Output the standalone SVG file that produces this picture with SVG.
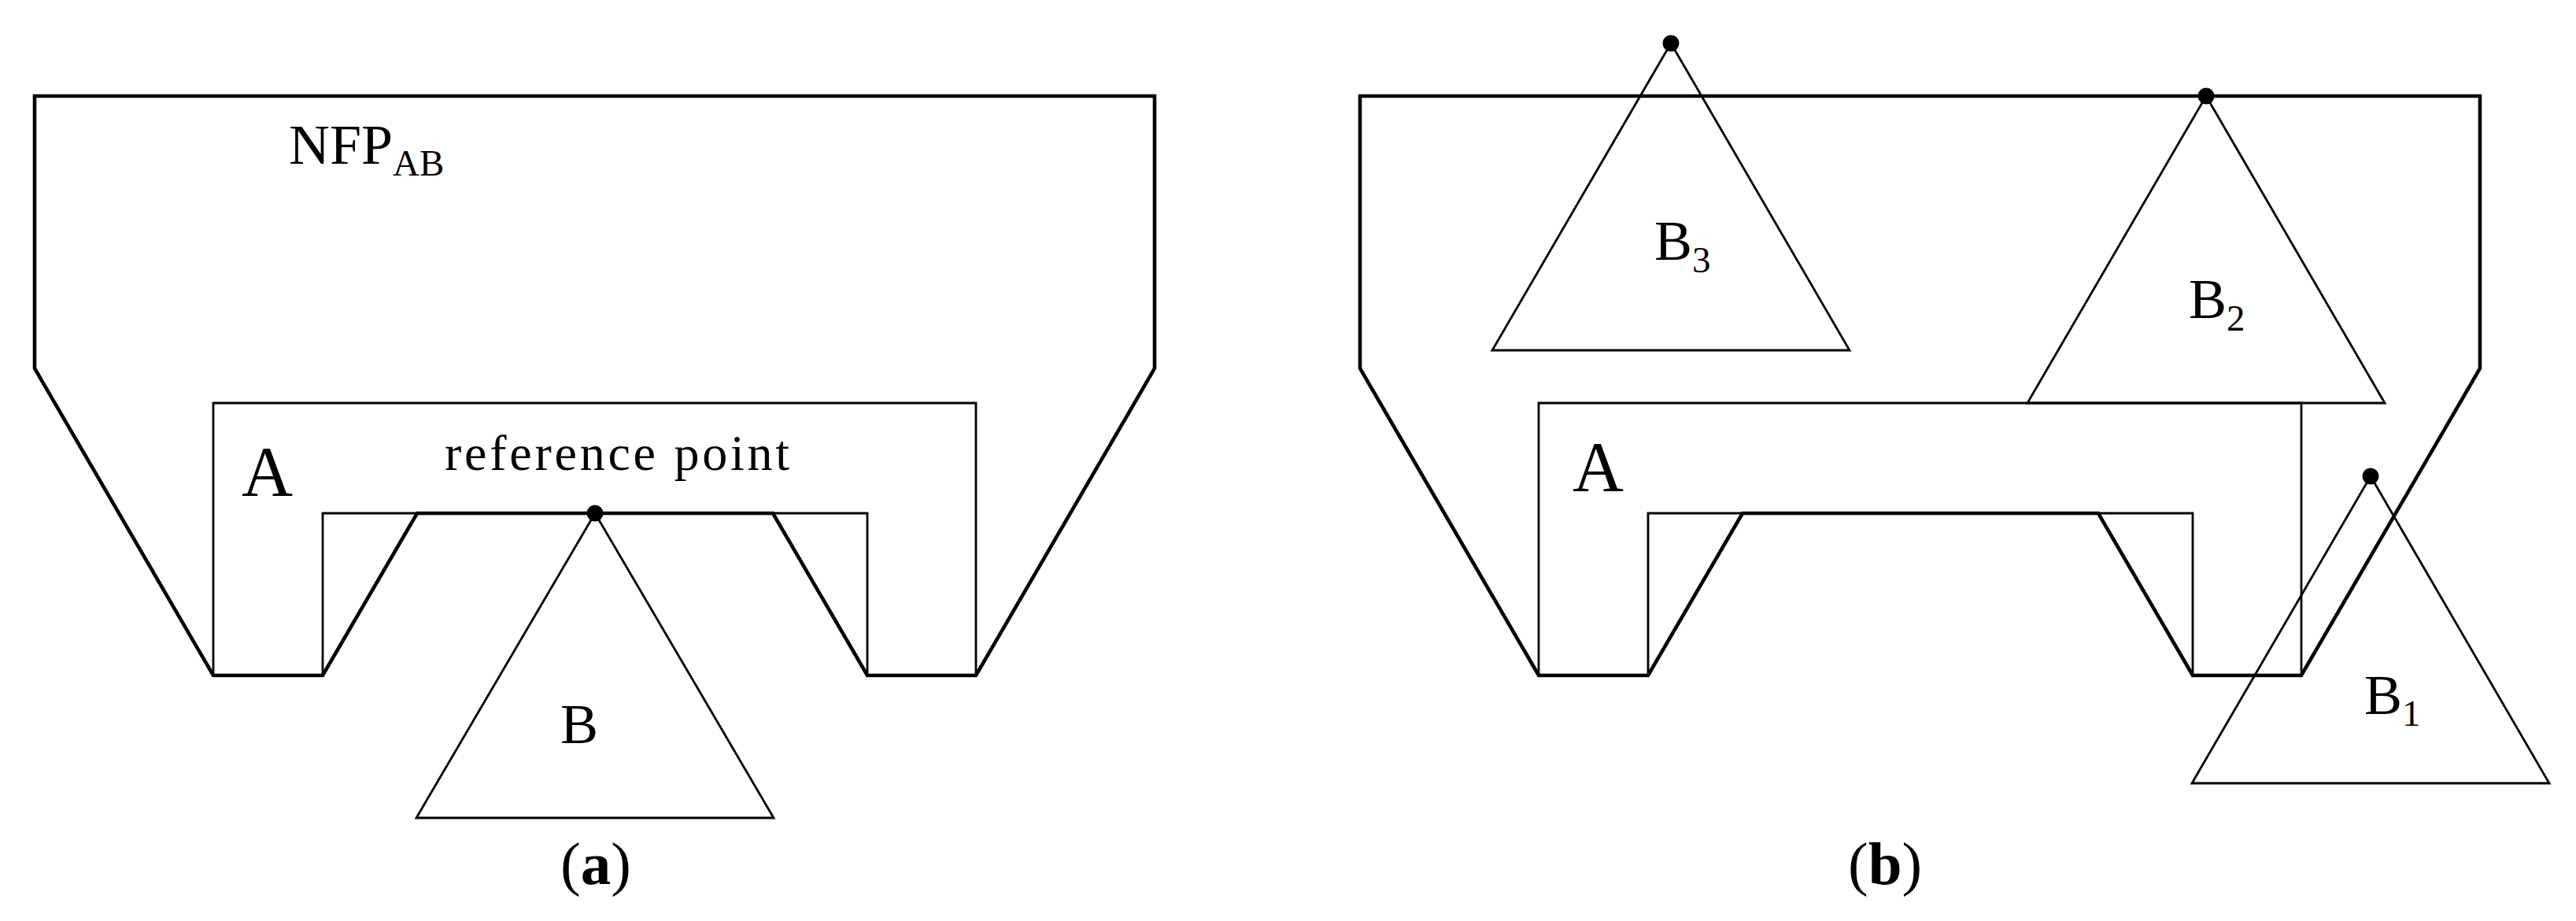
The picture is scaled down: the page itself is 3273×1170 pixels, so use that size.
<svg xmlns="http://www.w3.org/2000/svg" width="3273" height="1170" viewBox="0 0 3273 1170">
<style>
.nfp{fill:none;stroke:#000;stroke-width:4.6;stroke-linejoin:miter}
.thin{fill:none;stroke:#000;stroke-width:2.8;stroke-linejoin:miter}
.dot{fill:#000}
text{font-family:"Liberation Serif","Times New Roman",serif;fill:#000}
.lbl{font-size:72px}
.sub{font-size:47px}
.big{font-size:90px}
.cap{font-size:77px}
</style>
<rect width="3273" height="1170" fill="#fff"/>

<!-- Panel (a) -->
<g id="panel-a">
  <g id="a-A">
    <polygon class="thin" points="271,512 1240,512 1240,858 1102,858 1102,652 410,652 410,858 271,858"/>
    <text class="big" x="307" y="630">A</text>
  </g>
  <g id="a-B">
    <polygon class="thin" points="756,652 983,1039 529,1039"/>
    <text class="lbl" x="712" y="944">B</text>
  </g>
  <g id="a-NFP">
    <polygon class="nfp" points="44,122 1467,122 1467,468 1240,858 1102,858 982,652 530,652 410,858 271,858 44,468"/>
    <text class="lbl" x="367" y="208">NFP<tspan class="sub" dy="15">AB</tspan></text>
  </g>
  <g id="a-ref">
    <circle class="dot" cx="756" cy="652" r="10.5"/>
    <text x="565" y="597" font-size="64" textLength="438" lengthAdjust="spacing">reference point</text>
  </g>
  <text id="cap-a" class="cap" x="712" y="1123">(<tspan font-weight="bold">a</tspan>)</text>
</g>

<!-- Panel (b) -->
<g id="panel-b">
  <g id="b-A">
    <polygon class="thin" points="1955,512 2924,512 2924,858 2786,858 2786,652 2094,652 2094,858 1955,858"/>
    <text class="big" x="1998" y="624">A</text>
  </g>
  <g id="b-B3">
    <polygon class="thin" points="2123,55 2350,445 1896,445"/>
    <circle class="dot" cx="2123" cy="55" r="10.5"/>
    <text class="lbl" x="2102" y="330">B<tspan class="sub" dy="16">3</tspan></text>
  </g>
  <g id="b-B2">
    <polygon class="thin" points="2803,122 3030,512 2576,512"/>
    <circle class="dot" cx="2803" cy="122" r="10.5"/>
    <text class="lbl" x="2781" y="404">B<tspan class="sub" dy="16">2</tspan></text>
  </g>
  <g id="b-B1">
    <polygon class="thin" points="3012,605 3239,995 2785,995"/>
    <circle class="dot" cx="3012" cy="605" r="10.5"/>
    <text class="lbl" x="3004" y="907">B<tspan class="sub" dy="15">1</tspan></text>
  </g>
  <g id="b-NFP">
    <polygon class="nfp" points="1728,122 3151,122 3151,468 2924,858 2786,858 2666,652 2214,652 2094,858 1955,858 1728,468"/>
  </g>
  <text id="cap-b" class="cap" x="2348" y="1123">(<tspan font-weight="bold">b</tspan>)</text>
</g>
</svg>
